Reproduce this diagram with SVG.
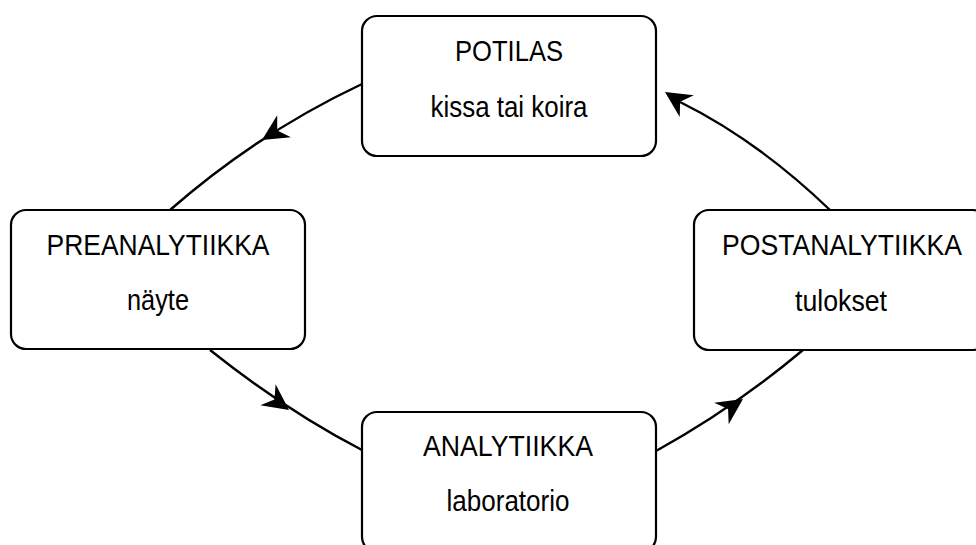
<svg xmlns="http://www.w3.org/2000/svg" xmlns:xlink="http://www.w3.org/1999/xlink" width="976" height="545" viewBox="0 0 976 545">
  <style>
    .box { fill: #ffffff; stroke: #000000; stroke-width: 2.2; }
    .lbl { font-family: "Liberation Sans", Arial, sans-serif; font-size: 29px; fill: #000000; text-anchor: middle; }
    .edge { fill: none; stroke: #000000; stroke-width: 2.4; }
    .head { fill: #000000; stroke: none; }
  </style>
  <defs>
    <path id="arrowhead" class="head" d="M0,0 L-26,-13 L-18,0 L-26,13 Z"/>
  </defs>
  <rect x="0" y="0" width="976" height="545" fill="#ffffff"/>

  <g id="connectors">
    <path class="edge" d="M362,84 Q258,133 170,210"/>
    <use xlink:href="#arrowhead" transform="translate(262,140) rotate(148)"/>
    <path class="edge" d="M210,350 Q288,412 362,450"/>
    <use xlink:href="#arrowhead" transform="translate(289,410) rotate(36)"/>
    <path class="edge" d="M656,451 Q734.5,407.5 803,350"/>
    <use xlink:href="#arrowhead" transform="translate(743,399) rotate(-34)"/>
    <path class="edge" d="M830,210 Q757,140 680,102"/>
    <use xlink:href="#arrowhead" transform="translate(665,92) rotate(213)"/>
  </g>

  <g id="potilas">
    <rect class="box" x="362" y="16" width="294" height="140" rx="15" ry="15"/>
    <text class="lbl" x="509" y="61" textLength="108" lengthAdjust="spacingAndGlyphs">POTILAS</text>
    <text class="lbl" x="509" y="117" textLength="157" lengthAdjust="spacingAndGlyphs">kissa tai koira</text>
  </g>

  <g id="preanalytiikka">
    <rect class="box" x="11" y="210" width="294" height="139" rx="15" ry="15"/>
    <text class="lbl" x="158" y="255" textLength="223" lengthAdjust="spacingAndGlyphs">PREANALYTIIKKA</text>
    <text class="lbl" x="158" y="310" textLength="62" lengthAdjust="spacingAndGlyphs">näyte</text>
  </g>

  <g id="postanalytiikka">
    <rect class="box" x="694" y="210" width="294" height="140" rx="15" ry="15"/>
    <text class="lbl" x="842" y="255" textLength="240" lengthAdjust="spacingAndGlyphs">POSTANALYTIIKKA</text>
    <text class="lbl" x="841" y="311" textLength="92" lengthAdjust="spacingAndGlyphs">tulokset</text>
  </g>

  <g id="analytiikka">
    <rect class="box" x="362" y="412" width="294" height="140" rx="15" ry="15"/>
    <text class="lbl" x="508" y="456" textLength="170" lengthAdjust="spacingAndGlyphs">ANALYTIIKKA</text>
    <text class="lbl" x="508" y="511" textLength="123" lengthAdjust="spacingAndGlyphs">laboratorio</text>
  </g>
</svg>
